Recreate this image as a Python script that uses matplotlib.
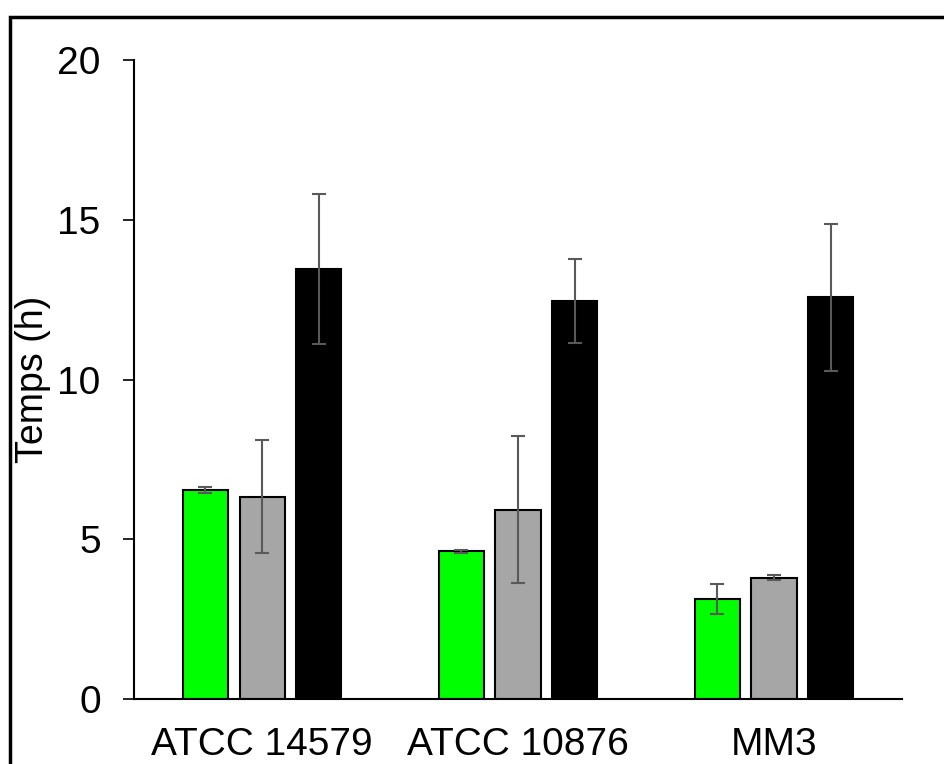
import numpy as np
import matplotlib
matplotlib.use("Agg")
import matplotlib.pyplot as plt
from matplotlib.patches import Rectangle

plt.rcParams['font.family'] = ['Liberation Sans', 'DejaVu Sans']

# data
strains = ["ATCC 14579", "ATCC 10876", "MM3"]
green_vals = [6.55, 4.63, 3.12]
green_err = [0.10, 0.05, 0.47]
gray_vals = [6.33, 5.92, 3.80]
gray_err = [1.77, 2.30, 0.08]
black_vals = [13.47, 12.45, 12.57]
black_err = [2.35, 1.32, 2.30]

series = [
    (green_vals, green_err, "#00ff00", "black"),
    (gray_vals, gray_err, "#a6a6a6", "black"),
    (black_vals, black_err, "black", "black"),
]

fig = plt.figure(figsize=(9.44, 7.64), dpi=100)
ax = fig.add_axes([0.142, 0.085, 0.8135, 0.8365])

x = np.arange(len(strains))
width = 0.176
step = 0.222

for i, (vals, errs, fc, ec) in enumerate(series):
    pos = x + (i - 1) * step
    ax.bar(pos, vals, width, color=fc, edgecolor=ec, linewidth=1.5, zorder=2)
    ax.errorbar(pos, vals, yerr=errs, fmt="none", ecolor="#595959",
                elinewidth=1.5, capsize=5, capthick=1.5, zorder=3)

ax.set_xlim(-0.5, 2.5)
ax.set_ylim(0, 20)
ax.set_yticks([0, 5, 10, 15, 20])
ax.set_xticks(x)
ax.set_xticklabels(strains)
ax.tick_params(axis="y", labelsize=28, length=8, width=1.2, direction="out", pad=16)
ax.tick_params(axis="x", labelsize=28, length=0, pad=20)
ax.set_ylabel("Temps (h)", fontsize=27)
ax.yaxis.set_label_coords(-0.108, 0.5)

for s in ["top", "right"]:
    ax.spines[s].set_visible(False)
ax.spines["left"].set_linewidth(1.5)
ax.spines["bottom"].set_linewidth(1.5)

# outer frame, clipped by the image edge
fig.patches.append(Rectangle((10 / 944, -0.1), 1.2, 1 - 17 / 764 + 0.1,
                             transform=fig.transFigure, fill=False,
                             edgecolor="black", linewidth=2.5))

fig.savefig("out.png", dpi=100)
